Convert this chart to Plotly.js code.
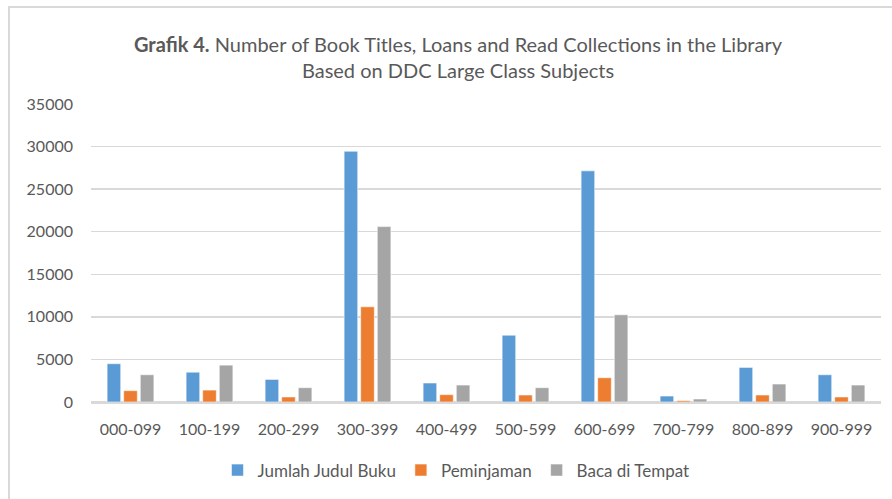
<!DOCTYPE html>
<html>
<head>
<meta charset="utf-8">
<script src="https://cdn.plot.ly/plotly-3.0.1.min.js"></script>
<style>
  html, body { margin: 0; padding: 0; background: #fff; }
  #chart { width: 892px; height: 499px; position: absolute; left: 0; top: 0; }
  #frame { position: absolute; left: 8px; top: 6px; width: 1000px; height: 1000px;
           border: 2px solid #D9D9D9; pointer-events: none; box-sizing: border-box; }
</style>
</head>
<body>
<div id="chart"></div>
<div id="frame"></div>
<script>
const categories = ["000-099","100-199","200-299","300-399","400-499","500-599","600-699","700-799","800-899","900-999"];
const jumlahJudulBuku = [4500, 3500, 2650, 29450, 2230, 7850, 27150, 700, 4060, 3200];
const peminjaman      = [1330, 1400,  590, 11180,  860,  820,  2850, 160,  820,  590];
const bacaDiTempat    = [3200, 4330, 1680, 20600, 1990, 1680, 10240, 350, 2110, 1990];
const seriesNames = ["Jumlah Judul Buku", "Peminjaman", "Baca di Tempat"];
const colors = ["#5B9BD5", "#ED7D31", "#A5A5A5"];
const yTicks = [0, 5000, 10000, 15000, 20000, 25000, 30000, 35000];

const allSeries = [jumlahJudulBuku, peminjaman, bacaDiTempat];
const traces = allSeries.map((vals, i) => ({
  type: "bar",
  name: seriesNames[i],
  x: categories,
  y: vals,
  marker: { color: colors[i], line: { color: "rgba(255,255,255,0.55)", width: 1 } },
  hoverinfo: "x+y+name"
}));

const font = "Lato, 'Open Sans', sans-serif";
const layout = {
  width: 892, height: 499,
  margin: { l: 91, r: 11, t: 104, b: 97 },
  paper_bgcolor: "rgba(0,0,0,0)",
  plot_bgcolor: "#fff",
  barmode: "group",
  bargap: 0.37,
  bargroupgap: 0.18,
  font: { family: font, color: "#595959", size: 16 },
  title: {
    text: "<b>Grafik 4.</b> Number of Book Titles, Loans and Read Collections in the Library<br>Based on DDC Large Class Subjects",
    font: { family: font, size: 20, color: "#595959" },
    x: 458 / 892, xanchor: "center", xref: "container",
    y: 1 - 52 / 499, yanchor: "middle", yref: "container"
  },
  xaxis: {
    type: "category",
    showgrid: false,
    showline: true, linecolor: "#D9D9D9", linewidth: 1.5,
    ticks: "", tickfont: { size: 16, color: "#595959", family: font },
    ticklen: 0, ticklabelstandoff: 12, fixedrange: true
  },
  yaxis: {
    range: [0, 35000],
    tickvals: yTicks,
    ticktext: yTicks.map(String),
    showgrid: true, gridcolor: "#D9D9D9", gridwidth: 1.5,
    zeroline: true, zerolinecolor: "#D9D9D9", zerolinewidth: 1.5,
    showline: false, ticks: "",
    ticklabelstandoff: 17,
    tickfont: { size: 16, color: "#595959", family: font },
    fixedrange: true
  },
  legend: {
    orientation: "h",
    x: 0.462, xanchor: "center",
    y: -0.23, yanchor: "middle",
    font: { size: 17, color: "#595959", family: font },
    itemwidth: 30, traceorder: "normal"
  },
  showlegend: true
};

Plotly.newPlot("chart", traces, layout, { displayModeBar: false, staticPlot: true });
</script>
</body>
</html>
